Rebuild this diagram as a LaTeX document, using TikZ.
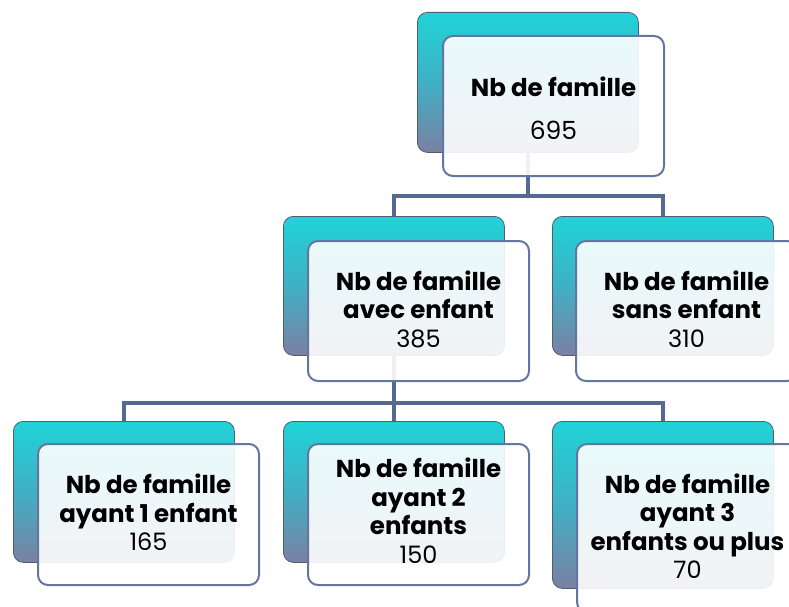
\documentclass[tikz,border=0pt]{standalone}
\usepackage{fontspec}
\setmainfont{Poppins}
\definecolor{teal1}{HTML}{20D3D8}
\definecolor{teal2}{HTML}{40B0C4}
\definecolor{slate1}{HTML}{7B80A3}
\definecolor{backline}{HTML}{4E6070}
\definecolor{frontline}{HTML}{6276A0}
\definecolor{connline}{HTML}{556A91}
\begin{document}
\begin{tikzpicture}[x=1pt,y=-1pt,
  backbox/.style={draw=backline, line width=0.8pt, rounded corners=10pt,
    top color=teal1, bottom color=slate1, middle color=teal2,
    minimum width=221pt, anchor=north west, inner sep=0pt},
  frontbox/.style={draw=frontline, line width=2pt, rounded corners=10pt,
    fill=white, fill opacity=0.9, draw opacity=1,
    minimum width=221pt, anchor=north west, inner sep=0pt},
  conn/.style={draw=connline, line width=3.4pt},
  txt/.style={align=center, text=black, inner sep=0pt,
    font=\bfseries\fontsize{24.5}{28.5}\selectfont},
  num/.style={font=\mdseries\fontsize{24}{28}\selectfont}]
\useasboundingbox (0,0) rectangle (789,607);
\clip (0,0) rectangle (789,607);
% back boxes
\node[backbox, minimum height=140pt] (b1) at (417,12) {};
\node[backbox, minimum height=139pt] (b2) at (283,216) {};
\node[backbox, minimum height=139pt] (b3) at (552,216) {};
\node[backbox, minimum height=141pt] (b4) at (13,421) {};
\node[backbox, minimum height=141pt] (b5) at (283,421) {};
\node[backbox, minimum height=167pt] (b6) at (552,421) {};
% connectors
\coordinate (j1) at ([yshift=-43pt]b1.south);
\draw[conn] (b1.south) -- (j1) -| (b2.north);
\draw[conn] (j1) -| (b3.north);
\coordinate (j2) at ([yshift=-47pt]b2.south);
\draw[conn] (b2.south) -- (j2) -| (b4.north);
\draw[conn] (j2) -| (b5.north);
\draw[conn] (j2) -| (b6.north);
% front boxes
\node[frontbox, minimum height=140pt] (f1) at (442,35) {};
\node[frontbox, minimum height=140pt] (f2) at (307,240) {};
\node[frontbox, minimum height=140pt] (f3) at (575,240) {};
\node[frontbox, minimum height=141pt] (f4) at (37,443) {};
\node[frontbox, minimum height=141pt] (f5) at (307,443) {};
\node[frontbox, minimum height=168pt] (f6) at (576,443) {};
% texts
\node[txt] (t1) at ([yshift=-2pt]f1.center) {Nb de famille\\[14pt]{\mdseries\fontsize{25}{28}\selectfont 695}};
\node[txt] (t2) at ([yshift=2pt]f2.center) {Nb de famille\\avec enfant\\{\mdseries\fontsize{24}{28}\selectfont 385}};
\node[txt] (t3) at ([yshift=2pt]f3.center) {Nb de famille\\sans enfant\\{\mdseries\fontsize{24}{28}\selectfont 310}};
\node[txt] (t4) at ([yshift=2pt]f4.center) {Nb de famille\\ayant 1 enfant\\{\mdseries\fontsize{24}{28}\selectfont 165}};
\node[txt] (t5) at ([yshift=4pt]f5.center) {Nb de famille\\ayant 2\\enfants\\{\mdseries\fontsize{24}{28}\selectfont 150}};
\node[txt] (t6) at ([yshift=2pt]f6.center) {Nb de famille\\ayant 3\\enfants ou plus\\{\mdseries\fontsize{24}{28}\selectfont 70}};
\end{tikzpicture}
\end{document}
